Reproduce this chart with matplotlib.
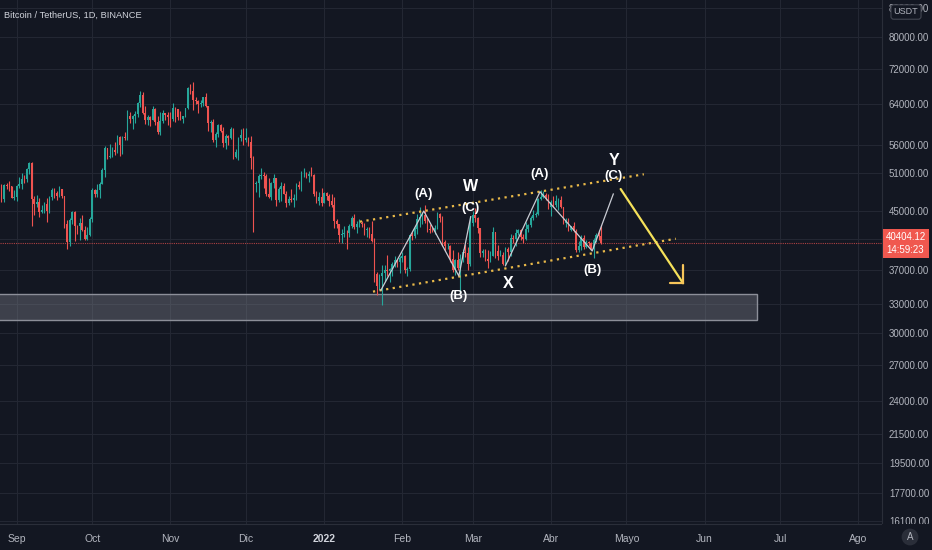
import numpy as np
import pandas as pd
import matplotlib
matplotlib.use("Agg")
import matplotlib.pyplot as plt
import matplotlib.dates as mdates
from matplotlib import font_manager
from matplotlib.patches import Rectangle
from matplotlib.ticker import FuncFormatter, NullLocator

# ------------------------------------------
# Data: BTC/USDT daily candles, 25 Aug 2021 .. 21 Apr 2022 (prices in thousands)
# ------------------------------------------
first_day = "2021-08-25"
first_open = 47.70

closes = [
    48.99, 46.85, 49.07, 48.90, 48.81, 46.99, 47.13,  # Aug
    48.81, 49.25, 49.94, 49.92, 51.76, 52.66, 46.86, 46.06, 46.40, 44.85,
    45.17, 46.03, 44.96, 47.11, 48.14, 47.77, 47.30, 48.31, 47.26, 43.01,
    40.59, 43.58, 44.88, 42.84, 42.72, 43.20, 42.19, 41.03, 41.52, 43.82,  # Sep
    48.14, 47.63, 48.20, 49.22, 51.47, 55.32, 53.79, 53.95, 54.95, 54.66,
    57.47, 56.00, 57.37, 57.35, 61.67, 60.88, 61.53, 62.01, 64.28, 66.00,
    62.19, 60.69, 61.30, 60.85, 63.08, 60.33, 58.45, 60.59, 62.25, 61.86, 61.32,  # Oct
    61.01, 63.23, 62.94, 61.44, 61.01, 61.53, 63.27, 67.53, 66.94, 64.88,
    64.78, 64.15, 64.38, 65.52, 63.62, 60.11, 60.37, 56.89, 58.05, 59.71,
    58.62, 56.25, 57.57, 57.17, 58.96, 53.73, 54.72, 57.27, 57.81, 56.95,  # Nov
    57.18, 56.48, 53.60, 49.15, 49.40, 50.44, 50.59, 50.47, 47.55, 47.14,
    49.38, 50.10, 46.70, 48.34, 48.86, 47.63, 46.13, 46.83, 46.68, 46.88,
    48.94, 48.63, 50.82, 50.84, 50.41, 50.80, 50.70, 47.54, 46.46, 47.12, 46.22,  # Dec
    47.72, 47.29, 46.44, 45.83, 43.43, 43.08, 41.56, 41.73, 41.86, 41.82,
    42.74, 43.92, 42.59, 43.10, 43.18, 43.11, 42.25, 42.38, 41.68, 40.68,
    36.45, 35.07, 36.28, 36.66, 36.96, 36.81, 37.16, 37.72, 38.17, 37.92, 38.48,  # Jan
    38.74, 36.95, 37.15, 41.57, 41.38, 42.41, 43.84, 44.04, 44.37, 43.51,
    42.37, 42.22, 42.07, 42.53, 44.54, 43.87, 40.52, 40.00, 40.10, 38.38,
    37.00, 38.24, 37.25, 38.33, 39.22, 39.11, 37.70, 43.19,  # Feb
    44.42, 43.92, 42.45, 39.15, 39.40, 38.42, 38.06, 38.74, 41.94, 39.42,
    38.73, 38.81, 37.79, 39.67, 39.28, 41.11, 40.92, 41.76, 42.20, 41.26,
    41.00, 42.36, 42.89, 43.96, 44.33, 44.50, 46.82, 47.13, 47.43, 47.06, 45.51,  # Mar
    46.28, 45.81, 46.41, 46.58, 45.50, 43.17, 43.44, 42.25, 42.75, 42.15,
    39.53, 40.07, 41.15, 39.94, 40.55, 40.38, 39.68, 40.80, 41.50, 41.36, 40.40412,  # Apr
]

highs = [
    49.30, 49.20, 49.20, 49.30, 49.60, 48.90, 48.20,
    49.00, 50.40, 51.00, 50.60, 51.90, 52.80, 52.92, 47.30, 47.40, 47.00,
    45.90, 46.40, 46.90, 47.30, 48.50, 48.50, 48.00, 48.80, 48.40, 47.30,
    43.60, 44.00, 44.90, 45.00, 42.97, 43.90, 44.40, 42.80, 42.60, 44.10,
    48.50, 48.30, 49.20, 49.50, 51.90, 55.80, 55.40, 56.10, 55.50, 56.60,
    57.80, 57.70, 57.60, 58.50, 62.90, 62.40, 61.70, 62.60, 64.50, 67.00,
    66.60, 63.70, 61.70, 61.50, 63.70, 63.30, 61.50, 62.50, 62.90, 62.30, 62.40,
    62.40, 64.30, 63.50, 63.10, 62.60, 61.60, 63.30, 67.80, 68.50, 69.00,
    65.60, 65.00, 64.90, 65.60, 66.40, 63.70, 60.80, 60.90, 58.40, 59.90,
    60.00, 59.30, 58.00, 57.80, 59.40, 59.20, 55.30, 57.40, 58.90, 59.20,
    59.10, 57.40, 57.60, 53.90, 49.70, 50.90, 51.90, 51.20, 50.80, 50.10,
    49.50, 50.80, 50.20, 48.70, 49.50, 49.40, 48.00, 47.30, 48.30, 47.50,
    49.30, 49.60, 51.40, 51.90, 51.20, 51.30, 52.10, 50.75, 48.10, 47.90, 48.50,
    47.90, 47.90, 47.60, 47.50, 47.10, 43.80, 43.10, 42.30, 42.80, 42.20,
    43.00, 44.30, 44.50, 43.50, 43.80, 43.50, 43.20, 42.70, 42.60, 43.50,
    41.10, 36.80, 36.50, 37.60, 37.60, 38.90, 37.20, 38.00, 38.70, 38.40, 38.70,
    39.30, 38.90, 37.40, 41.70, 41.90, 42.70, 44.50, 45.50, 44.80, 45.80,
    43.90, 43.00, 42.70, 42.90, 44.80, 44.60, 44.20, 40.90, 40.50, 40.20,
    39.50, 38.40, 39.30, 39.00, 39.70, 40.30, 39.90, 44.20,
    44.90, 45.40, 44.10, 42.50, 39.70, 39.70, 39.50, 39.40, 42.60, 42.00,
    40.20, 39.50, 39.30, 39.90, 39.90, 41.70, 41.50, 42.30, 42.40, 42.30,
    41.60, 43.40, 43.00, 44.20, 45.10, 44.80, 46.90, 48.19, 48.10, 47.70, 47.60,
    46.70, 47.20, 47.40, 46.90, 47.20, 45.55, 43.90, 43.90, 42.80, 43.40,
    42.40, 40.70, 41.50, 41.50, 40.80, 40.70, 40.60, 41.10, 41.80, 42.20, 42.98,
]

lows = [
    47.10, 46.30, 46.40, 48.40, 48.00, 46.90, 46.70,
    46.50, 48.60, 48.40, 49.40, 49.50, 50.90, 42.84, 44.40, 45.50, 44.10,
    44.70, 44.70, 43.40, 44.70, 46.70, 47.00, 46.70, 47.10, 46.90, 42.50,
    39.60, 40.10, 43.10, 40.70, 41.70, 40.80, 42.10, 40.90, 40.80, 41.40,
    43.30, 47.10, 47.10, 46.90, 49.10, 50.40, 53.40, 53.60, 53.70, 54.10,
    54.40, 53.90, 54.30, 56.80, 56.90, 60.20, 58.90, 60.10, 61.30, 63.50,
    62.00, 60.00, 59.70, 59.50, 60.70, 59.80, 58.00, 57.80, 60.20, 60.70, 59.80,
    59.40, 60.60, 60.40, 60.70, 60.70, 60.10, 61.40, 63.10, 66.30, 62.80,
    64.10, 62.30, 63.40, 63.60, 63.40, 58.60, 58.40, 56.50, 55.60, 57.40,
    58.50, 55.60, 55.30, 55.90, 57.00, 53.50, 53.60, 53.30, 56.70, 56.00,
    56.50, 55.80, 51.70, 42.00, 47.90, 47.10, 50.00, 48.60, 47.30, 46.90,
    46.60, 48.60, 45.70, 46.30, 46.50, 47.50, 45.50, 45.90, 46.40, 45.60,
    46.60, 48.40, 48.10, 50.40, 50.20, 49.50, 50.50, 47.30, 46.10, 45.90, 45.70,
    46.20, 46.70, 45.70, 45.50, 42.50, 42.50, 40.60, 40.50, 41.20, 39.65,
    41.30, 42.50, 42.30, 41.80, 42.60, 42.60, 41.50, 41.30, 41.10, 40.60,
    35.50, 34.00, 34.60, 32.95, 35.70, 36.20, 35.50, 36.20, 37.30, 37.40, 36.60,
    38.00, 36.60, 36.30, 36.90, 40.90, 41.10, 41.70, 42.70, 43.10, 43.20,
    42.00, 41.80, 41.90, 41.60, 42.40, 43.30, 40.10, 39.40, 39.60, 38.00,
    36.80, 36.40, 37.00, 34.30, 38.00, 38.60, 37.00, 37.50,
    42.80, 43.30, 41.80, 38.60, 38.60, 38.10, 37.20, 38.00, 38.70, 38.50,
    38.20, 38.70, 37.60, 37.60, 38.10, 38.80, 40.50, 40.10, 41.50, 40.90,
    40.50, 40.90, 41.90, 42.60, 43.60, 44.10, 44.40, 46.60, 46.90, 46.60, 45.20,
    44.20, 45.60, 45.50, 45.10, 45.40, 43.00, 42.70, 42.10, 42.10, 41.90,
    39.20, 39.30, 39.50, 39.60, 39.80, 40.00, 39.50, 38.50, 40.60, 40.80, 40.30,
]

# price scale and time scale labels
price_ticks = [88000, 80000, 72000, 64000, 56000, 51000, 45000, 41000, 37000,
               33000, 30000, 27000, 24000, 21500, 19500, 17700, 16100]
hidden_tick = 41000  # sits under the last-price tag
month_dates = ["2021-09-01", "2021-10-01", "2021-11-01", "2021-12-01", "2022-01-01",
               "2022-02-01", "2022-03-01", "2022-04-01", "2022-05-01", "2022-06-01",
               "2022-07-01", "2022-08-01"]
month_labels = ["Sep", "Oct", "Nov", "Dic", "2022", "Feb", "Mar", "Abr", "Mayo",
                "Jun", "Jul", "Ago"]
view_start, view_end = "2021-08-25 10:00", "2022-08-10 10:00"
price_low, price_high = 15950, 90430
clock_text = "14:59:23"

# Elliott wave drawing (dates / prices)
wave_w_dates = ["2022-01-23 14:00", "2022-02-09 14:00", "2022-02-23 12:00", "2022-02-28 05:00"]
wave_w_prices = [34600, 44960, 36260, 44130]
wave_y_dates = ["2022-03-14 00:00", "2022-03-27 17:00", "2022-04-17 10:00", "2022-04-25 19:00"]
wave_y_prices = [37510, 47930, 39390, 47570]

channel_upper_dates = ["2022-01-15 05:00", "2022-05-07 22:00"]
channel_upper_prices = [43400, 50780]
channel_lower_dates = ["2022-01-20 10:00", "2022-05-20 14:00"]
channel_lower_prices = [34430, 41020]

arrow_dates = ["2022-04-28 17:00", "2022-05-23 12:00"]
arrow_prices = [48360, 35390]
arrow_head_back = "2022-05-18 05:00"
arrow_head_up = 37600

zone_end = "2022-06-21 19:00"
zone_prices = [31300, 34200]

label_texts = ["(A)", "W", "(C)", "(B)", "X", "(A)", "Y", "(C)", "(B)"]
label_dates = ["2022-02-09 14:00", "2022-02-28 00:00", "2022-02-28 00:00", "2022-02-23 12:00",
               "2022-03-15 00:00", "2022-03-27 17:00", "2022-04-26 00:00", "2022-04-26 00:00",
               "2022-04-17 17:00"]
label_prices = [47570, 48840, 45420, 33940, 35420, 50820, 53230, 50490, 36980]
label_sizes = [9.5, 11.5, 9.5, 9.5, 11.5, 9.5, 11.5, 9.5, 9.5]

# ------------------------------------------
# Style
# ------------------------------------------
BG = "#131722"
GRID = "#232733"
AXIS_LINE = "#2a2e39"
TEXT = "#b2b5be"
UP = "#26a69a"
DOWN = "#ef5350"

names = {f.name for f in font_manager.fontManager.ttflist}
narrow = "Liberation Sans Narrow" if "Liberation Sans Narrow" in names else "Liberation Sans"
plt.rcParams["font.family"] = [narrow, "DejaVu Sans"]


def tnum(values):
    return mdates.date2num(pd.to_datetime(values))


def price_label(v, pos):
    if abs(v - hidden_tick) < 1:
        return ""
    return f"{v:.2f}"


fig = plt.figure(figsize=(9.32, 5.5), dpi=100, facecolor=BG)
ax = fig.add_axes([0, 26 / 550, 882 / 932, 524 / 550])
ax.set_facecolor(BG)

# candles
o = np.array([first_open] + closes[:-1]) * 1000
c = np.array(closes) * 1000
h = np.array(highs) * 1000
l = np.array(lows) * 1000
x = mdates.date2num(pd.date_range(first_day, periods=len(closes), freq="D"))
colors = np.where(c >= o, UP, DOWN)

ax.vlines(x, l, h, colors=colors, lw=0.8, zorder=3)
ax.bar(x, np.abs(c - o), bottom=np.minimum(o, c), width=0.62, color=colors, lw=0, zorder=3)

# support zone
x0 = tnum("2021-08-01")
ax.add_patch(Rectangle((x0, zone_prices[0]), tnum(zone_end) - x0, zone_prices[1] - zone_prices[0],
                       facecolor="#787b86", alpha=0.42, edgecolor="none", zorder=2))
ax.add_patch(Rectangle((x0, zone_prices[0]), tnum(zone_end) - x0, zone_prices[1] - zone_prices[0],
                       facecolor="none", edgecolor="#8c8f99", lw=1, zorder=2))

# current price line
last_price = c[-1]
ax.axhline(last_price, color=DOWN, lw=0.8, ls=(0, (1, 1)), alpha=0.7, zorder=2)

# channel
ax.plot(tnum(channel_upper_dates), channel_upper_prices, color="#e9b949", lw=1.6,
        ls=(0, (1, 2)), zorder=4)
ax.plot(tnum(channel_lower_dates), channel_lower_prices, color="#e9b949", lw=1.6,
        ls=(0, (1, 2)), zorder=4)

# wave lines
ax.plot(tnum(wave_w_dates), wave_w_prices, color="#c9ccd4", lw=0.9, zorder=5)
ax.plot(tnum(wave_y_dates), wave_y_prices, color="#c9ccd4", lw=0.9, zorder=5)

# projection arrow
ad = tnum(arrow_dates)
ax.plot(ad, arrow_prices, color="#f5e15a", lw=1.6, zorder=5, solid_capstyle="round")
ax.plot([tnum(arrow_head_back), ad[1]], [arrow_prices[1], arrow_prices[1]],
        color="#f7c55a", lw=1.6, zorder=5, solid_capstyle="round")
ax.plot([ad[1], ad[1]], [arrow_prices[1], arrow_head_up],
        color="#f7c55a", lw=1.6, zorder=5, solid_capstyle="round")

# wave labels
for txt, d, p, s in zip(label_texts, label_dates, label_prices, label_sizes):
    ax.text(tnum(d), p, txt, color="white", fontsize=s, fontweight="bold",
            ha="center", va="center", zorder=6)

# axes
ax.set_yscale("log")
ax.set_ylim(price_low, price_high)
ax.set_xlim(tnum(view_start), tnum(view_end))
ax.yaxis.tick_right()
ax.set_yticks(price_ticks)
ax.yaxis.set_minor_locator(NullLocator())
ax.yaxis.set_major_formatter(FuncFormatter(price_label))
ax.set_xticks(tnum(month_dates))
ax.set_xticklabels(month_labels)
ax.tick_params(axis="y", length=0, pad=5, labelsize=7, labelcolor=TEXT)
ax.tick_params(axis="x", length=0, pad=7, labelsize=7.5, labelcolor=TEXT)
for lbl in ax.get_xticklabels():
    if lbl.get_text() == "2022":
        lbl.set_fontweight("bold")
        lbl.set_color("#d1d4dc")
ax.grid(True, color=GRID, lw=0.8)
ax.set_axisbelow(True)
for side in ["top", "left"]:
    ax.spines[side].set_visible(False)
for side in ["right", "bottom"]:
    ax.spines[side].set_color(AXIS_LINE)

ax.text(0.005, 0.971, "Bitcoin / TetherUS, 1D, BINANCE", transform=ax.transAxes,
        color="#d1d4dc", fontsize=6.7, ha="left", va="center")

# last price tag
ax.annotate(f"{last_price:.2f}\n{clock_text}", xy=(1.0, last_price),
            xycoords=("axes fraction", "data"), xytext=(3, 0), textcoords="offset points",
            ha="left", va="center", fontsize=7, color="white", linespacing=1.35,
            bbox=dict(boxstyle="square,pad=0.3", fc="#f0584f", ec="none"),
            annotation_clip=False, zorder=10)

# corner under the price scale
corner = fig.add_axes([882 / 932, 0, 50 / 932, 26 / 550])
corner.set_facecolor(BG)
corner.set_xticks([])
corner.set_yticks([])
for s in corner.spines.values():
    s.set_visible(False)
corner.text(0.56, 0.5, "A", transform=corner.transAxes, ha="center", va="center",
            color=TEXT, fontsize=7,
            bbox=dict(boxstyle="circle,pad=0.35", fc="#2a2e39", ec="none"))

fig.text(906 / 932, 1 - 12 / 550, "USDT", ha="center", va="center", color=TEXT, fontsize=6.5,
         bbox=dict(boxstyle="round,pad=0.3,rounding_size=0.3", fc=BG, ec="#434651", lw=0.8))

fig.savefig("out.png", dpi=100, facecolor=BG)
